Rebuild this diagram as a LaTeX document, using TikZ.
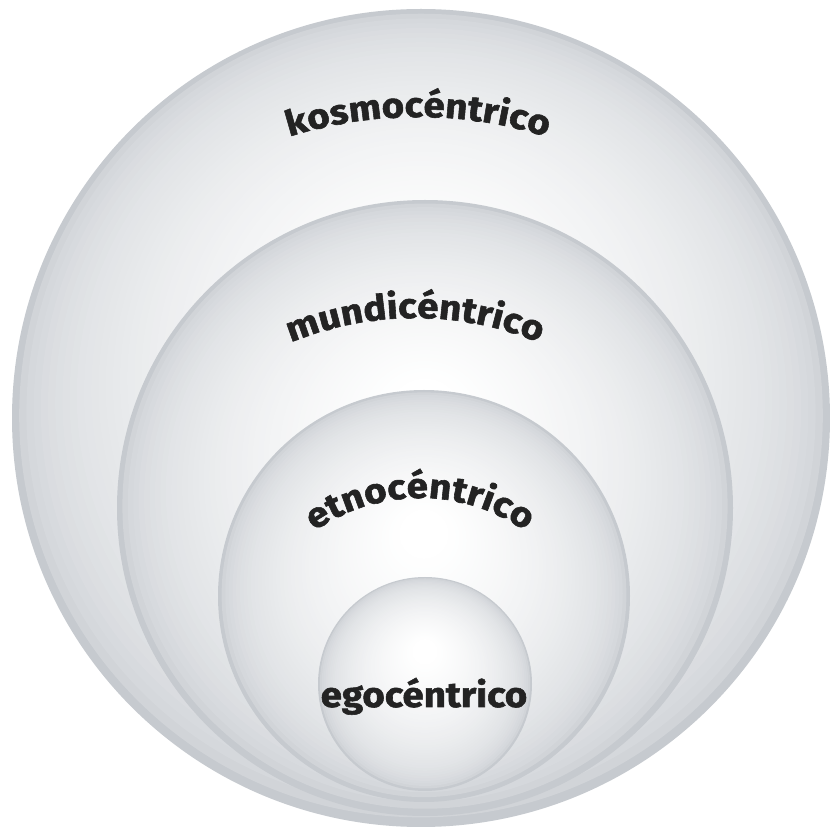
\documentclass[tikz,border=0pt]{standalone}
\usepackage{fontspec}
\setmainfont{Fira Sans}[FakeStretch=1.1, BoldFeatures={FakeBold=1.6}]
\usetikzlibrary{decorations.text}
\definecolor{edgegray}{RGB}{198,202,207}
\definecolor{txtgray}{RGB}{35,35,35}
\newcommand{\lblfont}{\bfseries\fontsize{17.5}{20}\selectfont}
\newcommand{\ballfill}[3]{%
  \foreach \bi in {0,...,50}{%
    \pgfmathsetmacro{\balt}{\bi/50}%
    \pgfmathsetmacro{\balp}{100*(\balt)^0.42}%
    \pgfmathsetmacro{\balr}{#3*(1-0.88*\balt)}%
    \pgfmathsetmacro{\baly}{#2+0.3*#3*\balt}%
    \fill[white!\balp!edgegray] (#1,\baly) circle[radius=\balr];
  }}
\begin{document}
\begin{tikzpicture}[x=0.5pt,y=0.5pt,
  ring/.style={circle, inner sep=0pt, draw=none},
  arctext/.style={decorate, decoration={text along path, text align=center, text color=txtgray, text={|\lblfont|#1}}}]
\useasboundingbox (0,0) rectangle (830,831);
\fill[white] (0,0) rectangle (830,831);
\begin{scope}
\clip (0,0) rectangle (830,831);
\ballfill{421}{413}{409}
\node[ring, minimum size=409pt] (kosmo) at (421,413) {};
\ballfill{425}{323}{308}
\node[ring, minimum size=308pt] (mundi) at (425,323) {};
\ballfill{424}{235}{206}
\node[ring, minimum size=206pt] (etno) at (424,235) {};
\ballfill{425}{147}{107}
\node[ring, minimum size=107pt] (ego) at (425,147) {};
\end{scope}
\path[arctext=kosmocéntrico] ([shift={(125:430)}]418,284) arc[start angle=125, end angle=55, radius=430];
\path[arctext=mundicéntrico] ([shift={(132:325)}]415,188) arc[start angle=132, end angle=48, radius=325];
\path[arctext=etnocéntrico] ([shift={(150:185)}]420,148) arc[start angle=150, end angle=30, radius=185];
\node[anchor=base, inner sep=0pt, text=txtgray, font=\lblfont] (egolbl) at (424,124) {egocéntrico};
\end{tikzpicture}
\end{document}
